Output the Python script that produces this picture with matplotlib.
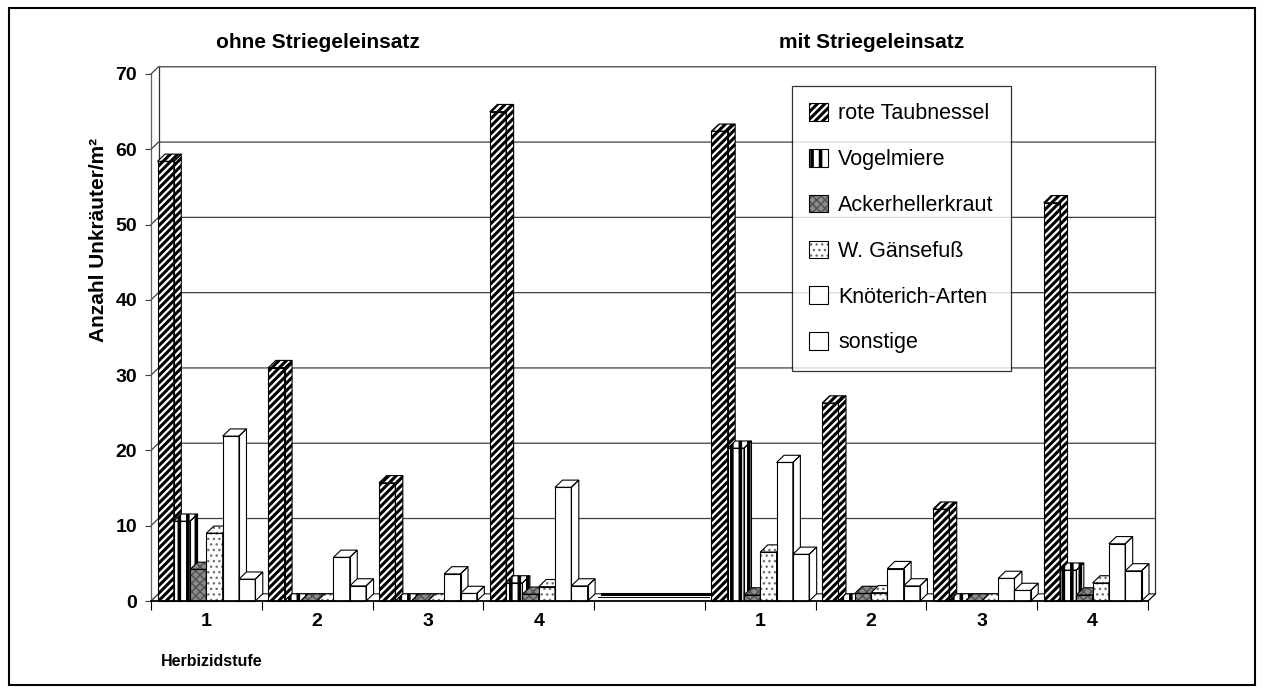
import math
import matplotlib
matplotlib.use('Agg')
import matplotlib.pyplot as plt
from matplotlib.patches import Polygon, Patch, Rectangle
from matplotlib.collections import LineCollection
from matplotlib.legend_handler import HandlerBase

plt.rcParams['font.family'] = ['Liberation Sans', 'DejaVu Sans']

# Herbizidstufen je Variante
stufen = ['1', '2', '3', '4']
arten = ['rote Taubnessel', 'Vogelmiere', 'Ackerhellerkraut',
         'W. Gänsefuß', 'Knöterich-Arten', 'sonstige']

# Anzahl Unkräuter/m², ohne Striegeleinsatz (Stufe 1-4)
ohne_taubnessel = [58.4, 31.0, 15.7, 65.0]
ohne_vogelmiere = [10.6, 0.0, 0.0, 2.4]
ohne_acker = [4.2, 0.0, 0.0, 0.9]
ohne_gaensefuss = [9.0, 0.0, 0.0, 1.9]
ohne_knoeterich = [21.9, 5.8, 3.6, 15.1]
ohne_sonstige = [2.9, 2.0, 1.0, 2.0]

# Anzahl Unkräuter/m², mit Striegeleinsatz (Stufe 1-4)
mit_taubnessel = [62.4, 26.3, 12.2, 52.9]
mit_vogelmiere = [20.3, 0.0, 0.0, 4.1]
mit_acker = [0.8, 1.0, 0.0, 0.8]
mit_gaensefuss = [6.5, 1.1, 0.0, 2.4]
mit_knoeterich = [18.4, 4.3, 3.0, 7.6]
mit_sonstige = [6.2, 2.0, 1.4, 4.0]

ohne = [ohne_taubnessel, ohne_vogelmiere, ohne_acker,
        ohne_gaensefuss, ohne_knoeterich, ohne_sonstige]
mit = [mit_taubnessel, mit_vogelmiere, mit_acker,
       mit_gaensefuss, mit_knoeterich, mit_sonstige]

# fuellung je art: facecolor, hatch, hatchfarbe, streifen (art, abstand px, breite pt)
muster = [
    ('white', None, 'black', ('diag', 7.5, 2.2)),
    ('white', None, 'black', ('vert', 8.5, 2.6)),
    ('#8c8c8c', 'xxxx', '#505050', None),
    ('white', '...', '#707070', None),
    ('white', None, 'black', None),
    ('white', None, 'black', None),
]

W, H = 1264, 693
fig = plt.figure(figsize=(W / 100, H / 100), dpi=100)
fig.patch.set_facecolor('white')

L, R, Y0, Y70 = 151, 1148, 601, 74
ax = fig.add_axes([L / W, (H - Y0) / H, (R - L) / W, (Y0 - Y70) / H])
n_kat = 2 * len(stufen) + 1
leer = len(stufen)
ax.set_xlim(0, n_kat)
ax.set_ylim(0, 70)
ax.set_facecolor('none')

# pixel je dateneinheit, 3D-versatz in datenkoordinaten
sx = (R - L) / n_kat
sy = (Y0 - Y70) / 70
DX = 7.5 / sx
DY = 7.2 / sy
gap = 6.5 / sx
bw = (1 - 2 * gap) / len(arten)


def streifen_segmente(xp, yp, art, ab):
    # linien in pixelkoordinaten ueber das umschliessende rechteck
    x0, x1, y0, y1 = min(xp), max(xp), min(yp), max(yp)
    segs = []
    if art == 'diag':
        c = math.floor((x0 - y1) / ab) * ab
        while c <= x1 - y0:
            segs.append([(c + y0 - 2, y0 - 2), (c + y1 + 2, y1 + 2)])
            c += ab
    else:
        c = math.floor(x0 / ab) * ab + ab / 3
        while c <= x1:
            segs.append([(c, y0 - 1), (c, y1 + 1)])
            c += ab
    return segs


def streifen(clip, pts, st, z):
    if st[3] is None:
        return
    art, ab, lw = st[3]
    segs = streifen_segmente([x * sx for x, y in pts], [y * sy for x, y in pts], art, ab)
    segs = [[(x / sx, y / sy) for x, y in s] for s in segs]
    lc = LineCollection(segs, colors='black', linewidths=lw, zorder=z + 0.002,
                        snap=False)
    ax.add_collection(lc, autolim=False)
    lc.set_clip_path(clip)


def flaeche(pts, st, z):
    fc, hatch, hc, _ = st
    f = Polygon(pts, closed=True, facecolor=fc, edgecolor=hc,
                linewidth=0, hatch=hatch, zorder=z, clip_on=False)
    ax.add_patch(f)
    streifen(f, pts, st, z)
    ax.add_patch(Polygon(pts, closed=True, fill=False, edgecolor='black',
                         linewidth=0.8, zorder=z + 0.004, clip_on=False))


# rueckwand, seitenwand, boden
for g in range(10, 71, 10):
    ax.plot([0, DX, n_kat + DX], [g, g + DY, g + DY], color='#404040',
            lw=0.9, clip_on=False, zorder=1)
ax.plot([0, DX, n_kat + DX, n_kat + DX], [0, DY, DY, 70 + DY],
        color='#303030', lw=0.9, clip_on=False, zorder=1)
ax.plot([DX, DX], [DY, 70 + DY], color='#303030', lw=0.9, clip_on=False, zorder=1)
ax.plot([n_kat, n_kat + DX], [0, DY], color='black', lw=0.9, clip_on=False, zorder=1)
ax.plot([leer + DX, leer + 1 + DX], [DY, DY], color='black', lw=2.2,
        clip_on=False, zorder=1)
ax.plot([leer + DX / 2, leer + 1 + DX / 2], [DY / 2, DY / 2], color='black',
        lw=0.7, clip_on=False, zorder=1)

# saeulen: front per ax.bar, seite und deckel als polygone
pos_ohne = list(range(len(stufen)))
pos_mit = [leer + 1 + i for i in range(len(stufen))]
for variante, pos in ((ohne, pos_ohne), (mit, pos_mit)):
    for j, werte in enumerate(variante):
        st = muster[j]
        xs = [p + gap + j * bw for p in pos]
        front = ax.bar(xs, werte, width=bw, align='edge', color=st[0],
                       edgecolor=st[2], linewidth=0, hatch=st[1])
        umriss = ax.bar(xs, werte, width=bw, align='edge', fill=False,
                        edgecolor='black', linewidth=0.8)
        for k, (x0, v) in enumerate(zip(xs, werte)):
            z = 3 + (pos[k] * len(arten) + j) * 0.01
            x1 = x0 + bw
            front[k].set_zorder(z)
            front[k].set_clip_on(False)
            umriss[k].set_zorder(z + 0.004)
            umriss[k].set_clip_on(False)
            streifen(front[k], [(x0, 0), (x1, 0), (x1, v), (x0, v)], st, z)
            flaeche([(x1, 0), (x1 + DX, DY), (x1 + DX, v + DY), (x1, v)], st, z)
            flaeche([(x0, v), (x1, v), (x1 + DX, v + DY), (x0 + DX, v + DY)], st, z)

# achsen
for s in ('top', 'right'):
    ax.spines[s].set_visible(False)
ax.spines['left'].set_color('#606060')
ax.spines['left'].set_linewidth(0.9)
ax.spines['bottom'].set_color('black')
ax.spines['bottom'].set_linewidth(1.3)
ax.spines['bottom'].set_zorder(10)

ax.set_yticks(range(0, 71, 10))
ax.set_yticklabels([str(v) for v in range(0, 71, 10)], fontsize=14,
                   fontweight='bold')
ax.tick_params(axis='y', length=4, width=0.8, pad=6, color='#404040')

ax.set_xticks(range(n_kat + 1))
ax.set_xticklabels([])
ax.tick_params(axis='x', which='major', length=6.5, width=0.8)
ax.set_xticks([i + 0.5 for i in range(n_kat)], minor=True)
ax.set_xticklabels(stufen + [''] + stufen, minor=True, fontsize=14,
                   fontweight='bold')
ax.tick_params(axis='x', which='minor', length=0, pad=9)

fig.text(318 / W, 1 - 42 / H, 'ohne Striegeleinsatz', ha='center',
         va='center', fontsize=15, fontweight='bold')
fig.text(872 / W, 1 - 42 / H, 'mit Striegeleinsatz', ha='center',
         va='center', fontsize=15, fontweight='bold')
fig.text(99 / W, 1 - 240 / H, 'Anzahl Unkräuter/m²', rotation=90,
         ha='center', va='center', fontsize=15, fontweight='bold')
fig.text(212 / W, 1 - 661 / H, 'Herbizidstufe', ha='center', va='center',
         fontsize=11.5, fontweight='bold')


class StreifenHandler(HandlerBase):
    def __init__(self, st):
        super().__init__()
        self.st = st

    def create_artists(self, legend, orig_handle, xdescent, ydescent,
                       width, height, fontsize, trans):
        fc, hatch, hc, streif = self.st
        rect = Rectangle((-xdescent, -ydescent), width, height, facecolor=fc,
                         edgecolor=hc, linewidth=0, hatch=hatch, transform=trans)
        teile = [rect]
        if streif is not None:
            art, ab, lw = streif
            ab = ab * 0.72
            xp = [-xdescent, -xdescent + width]
            yp = [-ydescent, -ydescent + height]
            lc = LineCollection(streifen_segmente(xp, yp, art, ab), colors='black',
                                linewidths=lw, transform=trans, snap=False)
            lc.set_clip_path(rect)
            teile.append(lc)
        teile.append(Rectangle((-xdescent, -ydescent), width, height, fill=False,
                               edgecolor='black', linewidth=0.8, transform=trans))
        return teile


# legende
handles = [Patch(facecolor=st[0], label=name) for st, name in zip(muster, arten)]
leg = fig.legend(handles=handles, loc='upper left',
                 bbox_to_anchor=(792 / W, 1 - 86 / H),
                 bbox_transform=fig.transFigure, borderaxespad=0,
                 fontsize=15.5, frameon=True, fancybox=False, shadow=False,
                 handlelength=0.88, handleheight=0.88, handletextpad=0.47,
                 labelspacing=1.14, borderpad=0.8,
                 handler_map={h: StreifenHandler(st) for h, st in zip(handles, muster)})
leg.get_frame().set_edgecolor('black')
leg.get_frame().set_linewidth(0.9)
leg.set_zorder(20)

# rahmen um das ganze diagramm
fig.add_artist(Rectangle((9 / W, 8 / H), (W - 18) / W, (H - 16) / H,
                         transform=fig.transFigure, fill=False,
                         edgecolor='black', linewidth=1.5))

fig.savefig('out.png', dpi=100)
